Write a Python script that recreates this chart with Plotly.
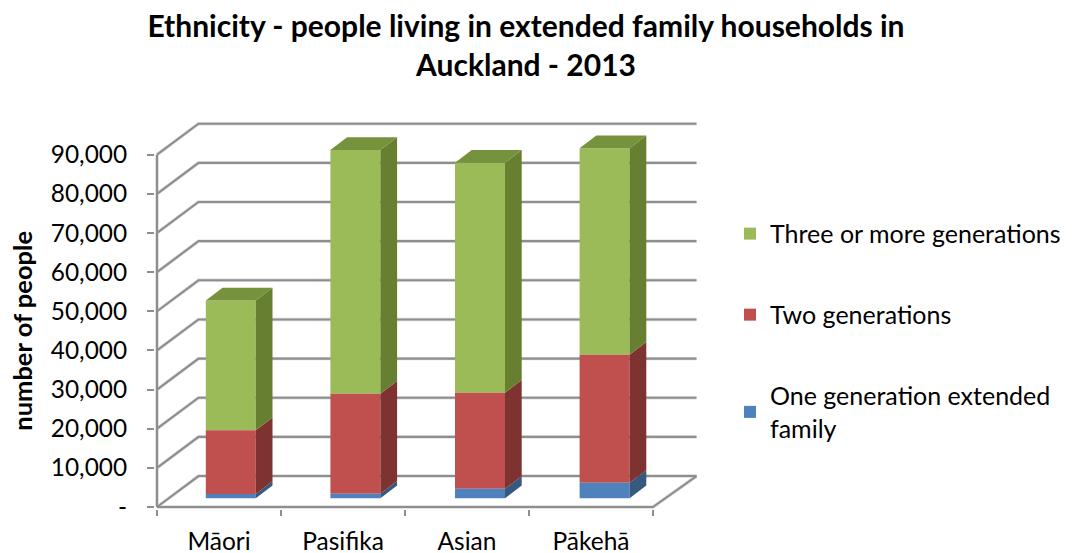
import plotly.graph_objects as go

# ---- data ----
categories = ["Māori", "Pasifika", "Asian", "Pākehā"]
one_generation = [1100, 1150, 2400, 3930]
two_generations = [16250, 25550, 24560, 32730]
three_generations = [33150, 62250, 58740, 52740]
y_ticks = [0, 10000, 20000, 30000, 40000, 50000, 60000, 70000, 80000, 90000]
y_tick_labels = ["-", "10,000", "20,000", "30,000", "40,000", "50,000", "60,000", "70,000", "80,000", "90,000"]

series_names = ["One generation extended<br>family", "Two generations", "Three or more generations"]
series_values = [one_generation, two_generations, three_generations]
front_colors = ["#4F81BD", "#C0504D", "#9BBB59"]
side_colors = ["#37597F", "#7F3331", "#667F31"]
top_color = "#76923C"

# ---- oblique-projection geometry (category units / value units) ----
W, H = 1072, 553
PAD = 2               # pixels of plot area kept beyond the axes so their lines are not clipped
X0, Y0 = 157, 507.5   # pixel position of the front corner (category 0, value 0)
L, R, T, B = X0 - PAD, 698, 121, Y0 + PAD
px_x = 124.0          # pixels per category
px_y = 39.2 / 10000   # pixels per value unit
wall_dx, wall_dy = 41.5 / px_x, 31 / px_y
wall_end = 4 + 43.5 / px_x
bar_step = 124.6 / px_x
bar_w = 50 / px_x
bar_dx, bar_dy = 16.7 / px_x, 12.7 / px_y
off_dx, off_dy = 11.8 / px_x, 8.8 / px_y

GRID = "#8E8E8E"
HALO = "#DCDCDC"
n = len(categories)
bar_centers = [(i * bar_step) + 0.5 + off_dx for i in range(n)]

fig = go.Figure()

# cumulative base of every segment
cum = [0.0] * n
levels = []
for vals in series_values:
    levels.append(list(cum))
    cum = [c + v for c, v in zip(cum, vals)]

# front faces: real bars, positioned from the data (top series first for the legend)
for s in reversed(range(len(series_values))):
    fig.add_trace(go.Bar(
        x=bar_centers,
        y=series_values[s],
        base=[b + off_dy for b in levels[s]],
        width=bar_w,
        name=series_names[s],
        legendgroup=series_names[s],
        marker=dict(color=front_colors[s], line=dict(width=0)),
    ))

# side faces and tops computed from the same data
for s, (vals, col) in enumerate(zip(series_values, side_colors)):
    xs, ys = [], []
    for i in range(n):
        x1 = bar_centers[i] + bar_w / 2
        y0 = levels[s][i] + off_dy
        y1 = y0 + vals[i]
        xs += [x1, x1 + bar_dx, x1 + bar_dx, x1, x1, None]
        ys += [y0, y0 + bar_dy, y1 + bar_dy, y1, y0, None]
    fig.add_trace(go.Scatter(x=xs, y=ys, mode="lines", fill="toself", fillcolor=col,
                             line=dict(width=0), hoverinfo="skip", showlegend=False))
xs, ys = [], []
for i in range(n):
    x0 = bar_centers[i] - bar_w / 2
    x1 = x0 + bar_w
    y = cum[i] + off_dy
    xs += [x0, x1, x1 + bar_dx, x0 + bar_dx, x0, None]
    ys += [y, y, y + bar_dy, y + bar_dy, y, None]
fig.add_trace(go.Scatter(x=xs, y=ys, mode="lines", fill="toself", fillcolor=top_color,
                         line=dict(width=0), hoverinfo="skip", showlegend=False))

# wall and floor lines sit under the bars
paths = []
for v in y_ticks:
    paths.append(f"M0,{v} L{wall_dx},{v + wall_dy} L{wall_end},{v + wall_dy}")
paths.append(f"M0,0 L0,{y_ticks[-1]}")
paths.append(f"M0,0 L{n},0 L{wall_end},{wall_dy}")
shapes = []
for width, color in ((3.4, HALO), (2.1, GRID)):
    for p in paths:
        shapes.append(dict(type="path", path=p, xref="x", yref="y", layer="below",
                           line=dict(color=color, width=width)))

FONT = "Lato, 'Open Sans', sans-serif"
fig.update_layout(
    width=W, height=H,
    autosize=False,
    margin=dict(l=L, r=W - R, t=T, b=H - B, pad=0, autoexpand=False),
    paper_bgcolor="white", plot_bgcolor="white",
    barmode="overlay",
    shapes=shapes,
    font=dict(family=FONT, size=25, color="#000000"),
    title=dict(
        text="<b>Ethnicity - people living in extended family households in<br>Auckland - 2013</b>",
        x=526 / W, xanchor="center", y=1 - 37 / H, yanchor="middle",
        font=dict(family=FONT, size=30, color="#000000"),
    ),
    xaxis=dict(
        range=[-PAD / px_x, (R - X0) / px_x],
        automargin=False,
        tickmode="array",
        tickvals=[i + 0.5 for i in range(n)],
        ticktext=categories,
        ticks="", showgrid=False, zeroline=False, showline=False,
        ticklabelstandoff=15,
        tickfont=dict(size=24.5),
        minor=dict(tickmode="array", tickvals=list(range(n + 1)), ticks="outside",
                   ticklen=6, tickwidth=1.8, tickcolor=GRID, showgrid=False),
    ),
    yaxis=dict(
        range=[-PAD / px_y, (Y0 - T) / px_y],
        automargin=False,
        tickmode="array",
        tickvals=y_ticks,
        ticktext=y_tick_labels,
        ticks="outside", ticklen=7, tickwidth=1.8, tickcolor=GRID,
        showgrid=False, zeroline=False, showline=False,
        ticklabelstandoff=15,
        tickfont=dict(size=24.4),
    ),
    annotations=[dict(
        text="<b>number of people</b>", textangle=-90,
        xref="paper", yref="paper",
        x=(22 - L) / (R - L), y=(B - 331) / (B - T),
        xanchor="center", yanchor="middle", showarrow=False,
        font=dict(size=25.5),
    )],
    legend=dict(
        x=(730 - L) / (R - L), xanchor="left",
        y=1 - (211 - T) / (B - T), yanchor="top",
        traceorder="grouped",
        tracegroupgap=45.5,
        font=dict(size=25),
        bgcolor="rgba(0,0,0,0)",
        itemclick=False, itemdoubleclick=False,
    ),
)

fig.write_html("out.html", config={"displayModeBar": False},
               post_script="document.body.style.margin='0';")
